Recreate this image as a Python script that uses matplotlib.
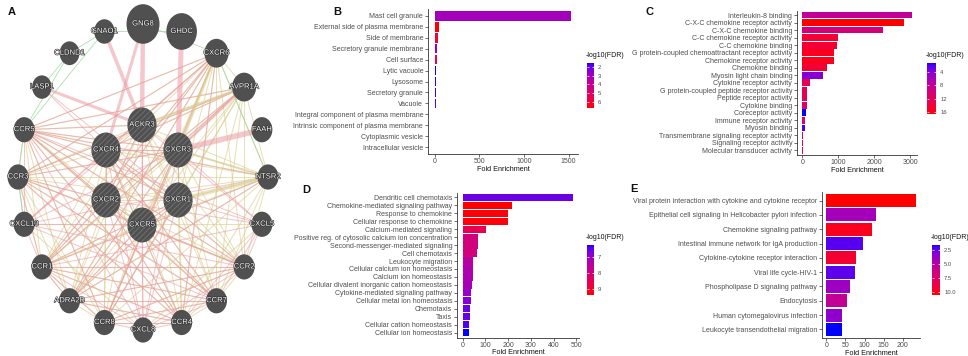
import numpy as np
import matplotlib
matplotlib.use("Agg")
import matplotlib.pyplot as plt
from matplotlib.colors import ListedColormap, Normalize
from matplotlib.patches import Ellipse
from matplotlib.collections import LineCollection
from matplotlib.cm import ScalarMappable
import matplotlib.patheffects as pe

plt.rcParams['font.family'] = ['Liberation Sans', 'DejaVu Sans']
plt.rcParams['hatch.linewidth'] = 0.7

# ---------------- data ----------------
outer_nodes = ["GNG8", "GHDC", "CXCR6", "AVPR1A", "FAAH", "NTSR2", "CXCL5", "CCR2", "CCR7", "CCR4",
               "CXCL8", "CCR8", "ADRA2B", "CCR1", "CXCL13", "CCR3", "CCR5", "LASP1", "CLDND1", "GNAO1"]
outer_scores = [1.1, 1.02, 0.8, 0.8, 0.7, 0.7, 0.7, 0.7, 0.7, 0.7,
                0.7, 0.7, 0.7, 0.7, 0.7, 0.7, 0.7, 0.65, 0.66, 0.68]
query_nodes = ["ACKR3", "CXCR3", "CXCR1", "CXCR5", "CXCR2", "CXCR4"]
query_scores = [0.97, 0.97, 0.97, 0.97, 0.97, 0.97]

gpcr_group = ["CCR1", "CCR2", "CCR3", "CCR4", "CCR5", "CCR7", "CCR8", "CXCR1", "CXCR2", "CXCR3",
              "CXCR4", "CXCR5", "CXCR6", "ACKR3", "AVPR1A", "NTSR2", "ADRA2B"]
ligand_group = ["CXCL5", "CXCL8", "CXCL13"]

physical_edges = [
    ("CXCL8", "CXCR1"), ("CXCL8", "CXCR2"), ("CXCL8", "CCR1"), ("CXCL8", "CCR2"), ("CXCL8", "CCR4"),
    ("CXCL8", "CCR5"), ("CXCL8", "CCR7"), ("CXCL8", "CCR8"), ("CXCL8", "CXCR3"), ("CXCL8", "CXCR5"),
    ("CXCL8", "ACKR3"), ("CXCL8", "CXCR4"),
    ("CXCL5", "CXCR1"), ("CXCL5", "CXCR2"), ("CXCL5", "CXCR3"), ("CXCL5", "CCR2"), ("CXCL5", "CCR7"),
    ("CXCL5", "CCR4"), ("CXCL5", "ACKR3"), ("CXCL5", "CCR5"), ("CXCL5", "CCR1"),
    ("CXCL13", "CXCR5"), ("CXCL13", "CXCR3"), ("CXCL13", "CXCR4"), ("CXCL13", "CCR1"), ("CXCL13", "CCR3"),
    ("CXCL13", "CCR5"), ("CXCL13", "ACKR3"), ("CXCL13", "CCR7"), ("CXCL13", "CXCR6"), ("CXCL13", "CCR2"),
    ("CCR5", "CXCR4"), ("CCR5", "CXCR3"), ("CCR5", "CXCR1"), ("CCR5", "CXCR2"), ("CCR5", "ACKR3"),
    ("CCR5", "CCR2"), ("CCR5", "CCR7"), ("CCR5", "NTSR2"), ("CCR5", "AVPR1A"), ("CCR5", "CXCR6"),
    ("CCR5", "CCR4"), ("CCR5", "CCR8"),
    ("CCR1", "CXCR1"), ("CCR1", "CXCR2"), ("CCR1", "CCR3"), ("CCR1", "CCR4"), ("CCR1", "CCR7"),
    ("CCR1", "CCR8"), ("CCR1", "ADRA2B"), ("CCR1", "CXCR6"), ("CCR1", "CCR2"),
    ("CCR3", "CXCR2"), ("CCR3", "CXCR3"), ("CCR3", "CCR2"), ("CCR3", "CCR4"), ("CCR3", "CXCR6"),
    ("CCR3", "CCR7"), ("CCR2", "CXCR4"), ("CCR2", "CXCR5"), ("CCR2", "CCR8"), ("CCR2", "ADRA2B"),
    ("CCR7", "CXCR4"), ("CCR7", "CCR8"), ("CCR7", "CXCR5"), ("CCR7", "ADRA2B"),
    ("CCR4", "CXCR2"), ("CCR4", "CXCR4"), ("CCR4", "CCR8"), ("CCR8", "CXCR1"), ("CCR8", "CXCR3"),
    ("ADRA2B", "CXCR1"), ("ADRA2B", "CXCR3"), ("ADRA2B", "CXCR5"), ("ADRA2B", "CCR4"), ("ADRA2B", "NTSR2"),
    ("CXCR6", "CXCR4"), ("CXCR6", "CXCR2"), ("CXCR6", "CCR8"), ("CXCR6", "CCR4"), ("CXCR6", "ADRA2B"),
    ("AVPR1A", "CXCR4"), ("AVPR1A", "CXCR2"), ("AVPR1A", "CCR1"), ("AVPR1A", "CCR3"),
    ("LASP1", "CXCR4"), ("LASP1", "CXCR1"), ("NTSR2", "CCR1"), ("NTSR2", "CXCL13"),
    ("CXCR4", "CXCR3"), ("CXCR4", "CXCR2"), ("CXCR4", "CXCR1"), ("CXCR3", "CXCR1"), ("CXCR2", "CXCR5"),
    ("ACKR3", "CXCR5"), ("ACKR3", "CXCR2"), ("CXCR1", "CXCR5"),
]
physical_strong = [("GNG8", "ACKR3"), ("GNG8", "CXCR4"), ("GHDC", "CXCR3"), ("GNAO1", "ACKR3"),
                   ("LASP1", "ACKR3"), ("FAAH", "CXCR3"), ("AVPR1A", "CXCR3")]
physical_strong_w = [3.2, 2.2, 3.6, 2.6, 2.2, 4.0, 2.0]
domain_strong = [("NTSR2", "CXCR1"), ("CXCR6", "CXCR3"), ("AVPR1A", "ACKR3"), ("NTSR2", "CXCR3")]
domain_strong_w = [3.0, 2.2, 2.0, 1.6]
genetic_edges = [("GNAO1", "CCR5"), ("CLDND1", "CCR5"), ("GNAO1", "GHDC"), ("GNG8", "CXCR6"),
                 ("CCR3", "CXCL13"), ("CLDND1", "LASP1"), ("CXCR6", "NTSR2"), ("GNAO1", "CLDND1"),
                 ("CCR3", "CCR5")]

B_terms = ["Mast cell granule", "External side of plasma membrane", "Side of membrane",
           "Secretory granule membrane", "Cell surface", "Lytic vacuole", "Lysosome", "Secretory granule",
           "Vacuole", "Integral component of plasma membrane", "Intrinsic component of plasma membrane",
           "Cytoplasmic vesicle", "Intracellular vesicle"]
B_fold = [1530, 50, 33, 26, 22, 12, 12, 11, 11, 7, 7, 6, 6]
B_fdr = [3.0, 6.69, 5.9, 2.5, 5.7, 1.54, 1.6, 1.7, 1.8, 3.6, 3.6, 3.4, 3.4]
B_ticks = [0, 500, 1000, 1500]
B_cticks = [2, 3, 4, 5, 6]

C_terms = ["Interleukin-8 binding", "C-X-C chemokine receptor activity", "C-X-C chemokine binding",
           "C-C chemokine receptor activity", "C-C chemokine binding",
           "G protein-coupled chemoattractant receptor activity", "Chemokine receptor activity",
           "Chemokine binding", "Myosin light chain binding", "Cytokine receptor activity",
           "G protein-coupled peptide receptor activity", "Peptide receptor activity", "Cytokine binding",
           "Coreceptor activity", "Immune receptor activity", "Myosin binding",
           "Transmembrane signaling receptor activity", "Signaling receptor activity",
           "Molecular transducer activity"]
C_fold = [3030, 2830, 2250, 990, 950, 870, 870, 690, 580, 220, 140, 130, 130, 90, 80, 65, 22, 20, 19]
C_fdr = [8.0, 16.6, 10.0, 14.5, 14.5, 15.5, 15.5, 14.5, 4.0, 12.5, 12.5, 12.5, 11.5, 1.35, 11.0, 2.0,
         11.0, 11.0, 11.0]
C_ticks = [0, 1000, 2000, 3000]
C_cticks = [4, 8, 12, 16]

D_terms = ["Dendritic cell chemotaxis", "Chemokine-mediated signaling pathway", "Response to chemokine",
           "Cellular response to chemokine", "Calcium-mediated signaling",
           "Positive reg. of cytosolic calcium ion concentration", "Second-messenger-mediated signaling",
           "Cell chemotaxis", "Leukocyte migration", "Cellular calcium ion homeostasis",
           "Calcium ion homeostasis", "Cellular divalent inorganic cation homeostasis",
           "Cytokine-mediated signaling pathway", "Cellular metal ion homeostasis", "Chemotaxis", "Taxis",
           "Cellular cation homeostasis", "Cellular ion homeostasis"]
D_fold = [487, 215, 198, 198, 101, 66, 66, 63, 48, 45, 44, 42, 38, 35, 32, 32, 30, 29]
D_fdr = [6.6, 9.4, 9.35, 9.35, 8.6, 8.0, 8.0, 8.0, 7.5, 7.3, 7.3, 7.2, 7.0, 6.8, 6.6, 6.6, 6.45, 6.25]
D_ticks = [0, 100, 200, 300, 400, 500]
D_cticks = [7, 8, 9]

E_terms = ["Viral protein interaction with cytokine and cytokine receptor",
           "Epithelial cell signaling in Helicobacter pylori infection", "Chemokine signaling pathway",
           "Intestinal immune network for IgA production", "Cytokine-cytokine receptor interaction",
           "Viral life cycle-HIV-1", "Phospholipase D signaling pathway", "Endocytosis",
           "Human cytomegalovirus infection", "Leukocyte transendothelial migration"]
E_fold = [234, 131, 119, 95, 78, 74, 61, 55, 41, 40]
E_fdr = [10.5, 4.2, 10.0, 2.2, 9.3, 2.3, 3.9, 5.6, 3.5, 1.6]
E_ticks = [0, 50, 100, 150, 200]
E_cticks = [2.5, 5.0, 7.5, 10.0]

# ---------------- helpers ----------------
W, H = 968, 356
fig = plt.figure(figsize=(W / 100, H / 100), dpi=100)


def px_axes(l, t, r, b):
    return fig.add_axes([l / W, 1 - b / H, (r - l) / W, (b - t) / H])


M_RGB2XYZ = np.array([[0.4124, 0.3576, 0.1805], [0.2126, 0.7152, 0.0722], [0.0193, 0.1192, 0.9505]])
WHITE = np.array([0.95047, 1.0, 1.08883])


def srgb_to_lab(c):
    c = np.asarray(c, float)
    lin = np.where(c <= 0.04045, c / 12.92, ((c + 0.055) / 1.055) ** 2.4)
    xyz = M_RGB2XYZ @ lin / WHITE
    f = np.where(xyz > 0.008856, np.cbrt(xyz), 7.787 * xyz + 16 / 116)
    return np.array([116 * f[1] - 16, 500 * (f[0] - f[1]), 200 * (f[1] - f[2])])


def lab_to_srgb(lab):
    L, a, b = lab
    fy = (L + 16) / 116
    f = np.array([fy + a / 500, fy, fy - b / 200])
    xyz = np.where(f ** 3 > 0.008856, f ** 3, (f - 16 / 116) / 7.787) * WHITE
    lin = np.clip(np.linalg.inv(M_RGB2XYZ) @ xyz, 0, 1)
    c = np.where(lin <= 0.0031308, 12.92 * lin, 1.055 * lin ** (1 / 2.4) - 0.055)
    return np.clip(c, 0, 1)


lab_lo = srgb_to_lab([0, 0, 1])
lab_hi = srgb_to_lab([1, 0, 0])
cmap = ListedColormap([lab_to_srgb(lab_lo + (lab_hi - lab_lo) * t) for t in np.linspace(0, 1, 256)])

TXT = '#4d4d4d'
FS = 5.0


def bar_panel(rect, terms, fold, fdr, xticks, cbar_rect, cticks, cfmt):
    ax = px_axes(*rect)
    norm = Normalize(min(fdr), max(fdr))
    y = np.arange(len(terms))
    ax.barh(y, fold, height=0.9, color=cmap(norm(np.array(fdr))), edgecolor='none', linewidth=0)
    ax.set_ylim(len(terms) - 0.4, -0.6)
    vmax = max(fold)
    ax.set_xlim(-0.05 * vmax, 1.05 * vmax)
    ax.set_yticks(y, terms)
    ax.set_xticks(xticks)
    for s in ['top', 'right']:
        ax.spines[s].set_visible(False)
    for s in ['left', 'bottom']:
        ax.spines[s].set_color('#333333')
        ax.spines[s].set_linewidth(0.6)
    ax.tick_params(length=2, width=0.5, color='#333333', labelsize=FS, labelcolor=TXT, pad=1.5)
    ax.tick_params(axis='x', pad=1)
    ax.set_xlabel('Fold Enrichment', fontsize=FS + 0.2, labelpad=0.3, color='#111111')
    cax = px_axes(*cbar_rect)
    cb = fig.colorbar(ScalarMappable(norm=norm, cmap=cmap), cax=cax)
    cb.outline.set_visible(False)
    cax.invert_yaxis()
    cb.set_ticks(cticks)
    cb.set_ticklabels([cfmt.format(t) for t in cticks])
    cax.tick_params(axis='y', direction='in', color='white', length=1.6, width=0.5, left=True,
                    right=True, labelsize=FS - 0.8, labelcolor=TXT, pad=3)
    fig.text((cbar_rect[0] - 1.5) / W, 1 - (cbar_rect[1] - 4) / H, '-log10(FDR)', fontsize=FS,
             color='#111111', ha='left', va='bottom')
    return ax


# ---------------- panel A: network ----------------
axA = px_axes(0, 0, 290, 356)
axA.set_xlim(0, 290)
axA.set_ylim(356, 0)
axA.axis('off')
cx, cy, rx, ry = 143, 177, 125, 153
stretch = 1.2
pos = {}
size = {}
for i, (n, s) in enumerate(zip(outer_nodes, outer_scores)):
    ang = np.deg2rad(90 - 18 * i)
    pos[n] = (cx + rx * np.cos(ang), cy - ry * np.sin(ang))
    size[n] = s
for i, (n, s) in enumerate(zip(query_nodes, query_scores)):
    ang = np.deg2rad(90 - 60 * i)
    pos[n] = (142 + 41.6 * np.cos(ang), 175 - 50 * np.sin(ang))
    size[n] = s

domain_edges = [(a, b) for i, a in enumerate(gpcr_group) for b in gpcr_group[i + 1:]]
domain_edges += [(a, b) for i, a in enumerate(ligand_group) for b in ligand_group[i + 1:]]


def seg(edges):
    return [[pos[a], pos[b]] for a, b in edges]


PINK = '#eb9aa4'
TAN = '#d9cc8c'
GREEN = '#96d896'
axA.add_collection(LineCollection(seg(domain_edges), colors=TAN, linewidths=0.75, alpha=0.6, zorder=1))
axA.add_collection(LineCollection(seg(physical_edges), colors=PINK, linewidths=0.75, alpha=0.55, zorder=1.1))
axA.add_collection(LineCollection(seg(genetic_edges), colors=GREEN, linewidths=0.6, alpha=0.8, zorder=1.2))
axA.add_collection(LineCollection(seg(domain_strong), colors=TAN, linewidths=domain_strong_w, alpha=0.55,
                                  zorder=1.3))
axA.add_collection(LineCollection(seg(physical_strong), colors=PINK, linewidths=physical_strong_w,
                                  alpha=0.55, zorder=1.4))

R0 = 15
for n in outer_nodes + query_nodes:
    x, y = pos[n]
    r = R0 * size[n]
    axA.add_patch(Ellipse((x, y), 2 * r, 2 * r * stretch, facecolor='#505050', edgecolor='none', zorder=3))
    if n in query_nodes:
        axA.add_patch(Ellipse((x, y), 2 * r, 2 * r * stretch, facecolor='none', edgecolor='#707070',
                              hatch='//////', linewidth=0, zorder=3.1))
    axA.text(x, y, n, ha='center', va='center', fontsize=5.5, color='white', zorder=4,
             path_effects=[pe.withStroke(linewidth=0.8, foreground='#2a2a2a')])

# ---------------- bar panels ----------------
bar_panel((428, 9, 578, 154), B_terms, B_fold, B_fdr, B_ticks, (587, 63, 594, 108), B_cticks, '{:g}')
bar_panel((797, 10.5, 917, 155), C_terms, C_fold, C_fdr, C_ticks, (927, 63, 936, 114), C_cticks, '{:g}')
bar_panel((457, 192.5, 579, 337.5), D_terms, D_fold, D_fdr, D_ticks, (587, 245, 594, 295), D_cticks, '{:g}')
bar_panel((822, 192, 920, 338), E_terms, E_fold, E_fdr, E_ticks, (932, 245, 940, 295), E_cticks, '{:.1f}')

for letter, x, y in [('A', 8, 12), ('B', 333, 12), ('C', 646, 12), ('D', 302, 190), ('E', 630, 189)]:
    fig.text(x / W, 1 - y / H, letter, fontsize=8, fontweight='bold', color='#111111', ha='left',
             va='center')

fig.savefig('out.png', dpi=100, facecolor='white')
